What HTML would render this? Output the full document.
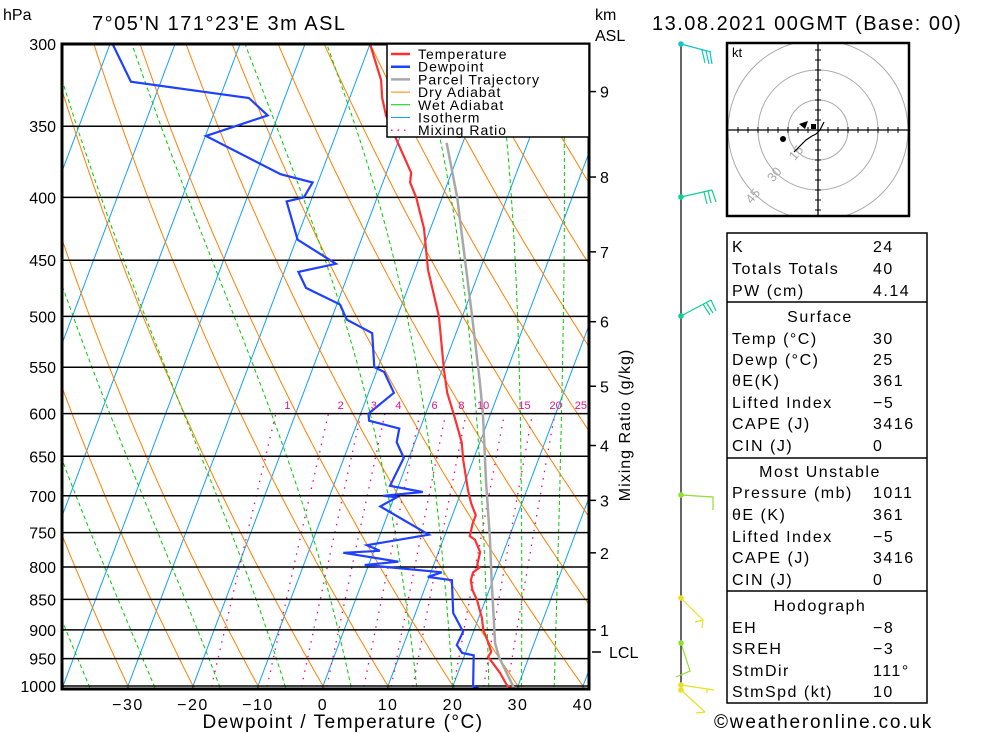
<!DOCTYPE html>
<html><head><meta charset="utf-8">
<style>
html,body{margin:0;padding:0;background:#fff;}
svg{display:block;font-family:"Liberation Sans",sans-serif;}
</style></head>
<body>
<svg id="chart" width="1000" height="733" viewBox="0 0 1000 733" xmlns="http://www.w3.org/2000/svg">
<defs><clipPath id="plotclip"><rect x="62" y="44" width="527" height="645"/></clipPath>
<clipPath id="hodoclip"><rect x="727" y="43" width="182" height="173"/></clipPath></defs>
<rect x="0" y="0" width="1000" height="733" fill="#fff"/>
<text x="3" y="20" font-size="16">hPa</text>
<text x="92" y="30" font-size="20" letter-spacing="1.5">7°05'N  171°23'E  3m  ASL</text>
<text x="595" y="20" font-size="16">km</text>
<text x="595" y="41" font-size="16">ASL</text>
<text x="652" y="30" font-size="20" letter-spacing="1.5">13.08.2021  00GMT  (Base: 00)</text>
<g id="bg" clip-path="url(#plotclip)"></g>
<g id="series" clip-path="url(#plotclip)"></g>
<g id="axes"></g>
<g id="legend"></g>
<g id="winds"></g>
<g id="hodo"></g>
<g id="table"></g>
<text x="714" y="728" font-size="19" letter-spacing="1.8">©weatheronline.co.uk</text>
</svg>
<script>
// ---- data ----
const tempP = [300,321,332,343,361,382,389,400,424,458,500,553,577,600,633,655,692,710,726,737,755,760,778,797,801,808,820,835,851,880,900,923,938,947,958,976,998,1011];
const tempT = [-30,-26.2,-25,-23.4,-20,-16.2,-15.8,-14,-11,-8,-3.6,0.3,2.1,4.3,7.2,8.5,10.9,12.2,13.6,13.6,13.9,14.9,16.4,16.7,17.2,16.5,16.6,17.4,18.7,20.5,21.4,23.0,23.9,23.7,24.8,26.5,28.2,30];
const dewP = [300,322,332,343,356.5,383,389,400,403,433,453,460,474,489,503,516,550,555,577,600,608,617,633,652,687,695,700,702,714,753,768,776,779,792,797,808,815,820,872,903,926,940,944,1000,1011];
const dewT = [-69.6,-64.6,-45.5,-41.6,-49.9,-36.2,-30.8,-31.3,-33.7,-29.8,-22.5,-27.8,-25.7,-19.5,-17.6,-12.9,-10.6,-8.8,-6.1,-8.8,-8.3,-3.2,-2.8,-0.8,-1.3,4.1,-1.8,0.4,-1.6,7.5,-1.4,0.9,-4.6,4.4,-0.6,11.7,9.8,13.7,15.8,18.4,18.2,19.5,21.4,23.1,25.5];
const parcelP = [361,400,500,564,600,683,760,820,923,947,1011];
const parcelT = [-12.5,-7.7,1.5,6.4,8.8,13.3,17.2,19.8,24.0,25.4,30];
const pressureTicks = [300,350,400,450,500,550,600,650,700,750,800,850,900,950,1000];
const tempTicks = [-30,-20,-10,0,10,20,30,40];
const kmLabels = ["9","8","7","6","5","4","3","2","1"];
const kmPressures = [328,385,443,505,570,637,706,779,900];
const mixRatios = [1,2,3,4,6,8,10,15,20,25];
const moistStarts = [-35,-25,-15,-5,5,15,20.5,26,31,36];
const dryStarts = [-40,-30,-20,-10,0,10,20,30,40,50,60,70,80,90,100,110,120,130,140,150,160,170,180,190,200];
const isoTemps = [-110,-100,-90,-80,-70,-60,-50,-40,-30,-20,-10,0,10,20,30,40];
const hodoU = [-12,-6,-3,-1,1,3];
const hodoV = [-11,-5,-3,-2,0,4];
// ---- scales ----
const NS="http://www.w3.org/2000/svg";
const LN=Math.log(1000/300);
function yP(p){return 44+642*Math.log(p/300)/LN;}
function xT(T,p){return 323+6.5*T+0.377*(686-yP(p));}
function mk(parent,tag,attrs){const e=document.createElementNS(NS,tag);for(const k in attrs)e.setAttribute(k,attrs[k]);parent.appendChild(e);return e;}
const bg=document.getElementById('bg'), series=document.getElementById('series'), axes=document.getElementById('axes');
function pts(ps,ts){return ps.map((p,i)=>xT(ts[i],p).toFixed(1)+','+yP(p).toFixed(1)).join(' ');}
const plevels=[];for(let p=1015;p>=295;p-=5)plevels.push(p);
// isotherms
isoTemps.forEach(T=>{
  const l=mk(bg,'line',{x1:xT(T,1015),y1:yP(1015),x2:xT(T,295),y2:yP(295),stroke:'#10a0ff','stroke-width':1});
  
  
});
// dry adiabats
dryStarts.forEach(t0=>{
  const th=t0+273.15;
  const ts=plevels.map(p=>th*Math.pow(p/1000,0.286)-273.15);
  const l=mk(bg,'polyline',{points:pts(plevels,ts),fill:'none',stroke:'#ff8000','stroke-width':1});
  
  
});
// moist adiabats
function es(Tc){return 6.112*Math.exp(17.67*Tc/(Tc+243.5));}
moistStarts.forEach(t0=>{
  let T=t0+273.15;const ps=[],ts=[];
  for(let p=1015;p>=295;p-=1){
    if(p%5===0){ps.push(p);ts.push(T-273.15);}
    const e=es(T-273.15),rs=0.622*e/(p-e);
    const dTdp=(287*T+2.5e6*rs)/(p*(1004+2.5e6*2.5e6*rs*0.622/(287*T*T)));
    T-=dTdp*1;
  }
  const l=mk(bg,'polyline',{points:pts(ps,ts),fill:'none',stroke:'#00cc00','stroke-width':1,'stroke-dasharray':'4,3'});
  
  
});
// mixing ratio
function tdFromW(w,p){const e=w*p/(622+w);const a=Math.log(e/6.112);return 243.5*a/(17.67-a);}
mixRatios.forEach(w=>{
  const ps=[],ts=[];for(let p=1015;p>=600;p-=5){ps.push(p);ts.push(tdFromW(w,p));}
  const l=mk(bg,'polyline',{points:pts(ps,ts),fill:'none',stroke:'#ff0080','stroke-width':1.3,'stroke-dasharray':'1.5,6'});
  
  
  const t=mk(axes,'text',{x:xT(tdFromW(w,600),600)+11+0.6*w,y:409,'font-size':11,fill:'#e0148c','text-anchor':'middle'});
  t.textContent=w;
  
  
});
// pressure lines
pressureTicks.forEach(p=>{
  const l=mk(bg,'line',{x1:62,x2:589,y1:yP(p),y2:yP(p),stroke:'#000','stroke-width':1.5});
  
  
  const t=mk(axes,'text',{x:56,y:yP(p)+6,'font-size':16,'text-anchor':'end'});
  t.textContent=p;
  
  
});
// series
const sP=mk(series,'polyline',{points:pts(parcelP,parcelT),fill:'none',stroke:'#a8a8a8','stroke-width':2.5});


const sD=mk(series,'polyline',{points:pts(dewP,dewT),fill:'none',stroke:'#2040ff','stroke-width':2.2});


const sT=mk(series,'polyline',{points:pts(tempP,tempT),fill:'none',stroke:'#ff3030','stroke-width':2.2});


// frame
const fr=mk(axes,'rect',{x:62,y:44,width:527,height:645,fill:'none',stroke:'#000','stroke-width':3});


tempTicks.forEach(T=>{
  const t=mk(axes,'text',{x:xT(T,1000),y:710,'font-size':16,'text-anchor':'middle','letter-spacing':1.5});
  t.textContent=(T<0?'\u2212'+(-T):T);
  
  
});
const xt=mk(axes,'text',{x:343,y:728,'font-size':19,'text-anchor':'middle','letter-spacing':1.5});
xt.textContent='Dewpoint / Temperature (°C)';


kmLabels.forEach((k,i)=>{
  const y=yP(kmPressures[i]);
  const l=mk(axes,'line',{x1:589,x2:596,y1:y,y2:y,stroke:'#000','stroke-width':1.5});
  
  
  const t=mk(axes,'text',{x:600,y:y+6,'font-size':16});
  t.textContent=k;
  
  
});
const lcl=mk(axes,'line',{x1:592,x2:601,y1:652,y2:652,stroke:'#000','stroke-width':1.5});


const lclt=mk(axes,'text',{x:609,y:658,'font-size':16});
lclt.textContent='LCL';


const mr=mk(axes,'text',{x:0,y:0,'font-size':16,'text-anchor':'middle','letter-spacing':1,transform:'translate(630,425) rotate(-90)'});
mr.textContent='Mixing Ratio (g/kg)';


// legend
const lg=document.getElementById('legend');
mk(lg,'rect',{x:387,y:44,width:202,height:93,fill:'#fff',stroke:'#000','stroke-width':1.5});
const legNames=['Temperature','Dewpoint','Parcel Trajectory','Dry Adiabat','Wet Adiabat','Isotherm','Mixing Ratio'];
const legCol=['#ff3030','#2040ff','#a8a8a8','#ff8000','#00cc00','#10a0ff','#ff0080'];
const legW=[2.5,2.5,2.5,1,1,1,1.3];
legNames.forEach((n,i)=>{
  const y=54+i*12.7;
  const g=mk(lg,'g',{});
  
  
  const a={x1:391,x2:410,y1:y,y2:y,stroke:legCol[i],'stroke-width':legW[i]};
  if(i===6)a['stroke-dasharray']='1.5,5';
  mk(g,'line',a);
  const t=mk(g,'text',{x:418,y:y+5,'font-size':14,'letter-spacing':1});
  t.textContent=n;
});
// winds
const wd=document.getElementById('winds');
mk(wd,'line',{x1:681,x2:681,y1:44,y2:692,stroke:'#000','stroke-width':1.2});
const barbs=[
 [44,'#10c8c8','M681,44 L711,52 M702,50 L705,63 M706,51 L709,64 M710,52 L712,64'],
 [197,'#10d090','M681,197 L712,190 M704,192 L707,204 M708,191 L711,203 M712,190 L716,202'],
 [316,'#10d090','M681,316 L711,300 M703,304 L710,315 M706,302 L713,313 M711,300 L716,311'],
 [495,'#90e030','M681,495 L713,497 L713,510'],
 [598,'#e8e020','M681,598 L703,620 M695,622 L703,620 L702,628'],
 [643,'#90e030','M681,643 L690,671 L676,677'],
 [685,'#e8e020','M681,685 L714,690 M707,689 L707,693'],
 [690,'#e8e020','M681,690 L705,712 M696,713 L705,712']
];
barbs.forEach(b=>{
  const g=mk(wd,'g',{});
  
  
  mk(g,'path',{d:b[2],fill:'none',stroke:b[1],'stroke-width':1.2});
  mk(g,'circle',{cx:681,cy:b[0],r:2.8,fill:b[1]});
});
// hodograph
const hd=document.getElementById('hodo');
const hc=mk(hd,'g',{'clip-path':'url(#hodoclip)'});
[30,60,90].forEach(r=>mk(hc,'circle',{cx:818,cy:130,r:r,fill:'none',stroke:'#aaa','stroke-width':1}));
mk(hd,'line',{x1:727,x2:909,y1:130,y2:130,stroke:'#000','stroke-width':1.3});
mk(hd,'line',{x1:818,x2:818,y1:43,y2:216,stroke:'#000','stroke-width':1.3});
for(let d=-80;d<=80;d+=10){if(d===0)continue;
  mk(hd,'line',{x1:818+d,x2:818+d,y1:127,y2:133,stroke:'#000','stroke-width':1});
  mk(hd,'line',{x1:815,x2:821,y1:130+d,y2:130+d,stroke:'#000','stroke-width':1});}
[['15',30],['30',60],['45',90]].forEach(a=>{
  const r=a[1]*0.72;const t=mk(hd,'text',{x:0,y:0,'font-size':13,fill:'#aaa','text-anchor':'middle',transform:`translate(${818-r+3},${130+r+4}) rotate(-50)`});t.textContent=a[0];});
mk(hd,'rect',{x:727,y:43,width:182,height:173,fill:'none',stroke:'#000','stroke-width':2.5});
const kt=mk(hd,'text',{x:732,y:57,'font-size':13});kt.textContent='kt';
const hpts=hodoU.map((u,i)=>(818+u*2).toFixed(1)+','+(130-hodoV[i]*2).toFixed(1)).join(' ');
const hl=mk(hd,'polyline',{points:hpts,fill:'none',stroke:'#000','stroke-width':1.2});


mk(hd,'circle',{cx:783,cy:139,r:3,fill:'#000'});
mk(hd,'path',{d:'M799,124 L808,121 L805,129 Z',fill:'#000'});
mk(hd,'rect',{x:811,y:124,width:5,height:5,fill:'#000'});
// table
const tb=document.getElementById('table');
mk(tb,'rect',{x:727,y:233,width:200,height:470,fill:'none',stroke:'#000','stroke-width':1.5});
[302,458,591].forEach(y=>mk(tb,'line',{x1:727,x2:927,y1:y,y2:y,stroke:'#000','stroke-width':1.5}));
const rows=[
 ['K','24',252],['Totals Totals','40',274],['PW (cm)','4.14',296],
 ['#Surface','',322],['Temp (°C)','30',344],['Dewp (°C)','25',365],['θE(K)','361',386],['Lifted Index','\u22125',408],['CAPE (J)','3416',429],['CIN (J)','0',451],
 ['#Most Unstable','',477],['Pressure (mb)','1011',498],['θE (K)','361',520],['Lifted Index','\u22125',542],['CAPE (J)','3416',563],['CIN (J)','0',585],
 ['#Hodograph','',611],['EH','\u22128',633],['SREH','\u22123',654],['StmDir','111°',676],['StmSpd (kt)','10',697]];
rows.forEach(r=>{
  if(r[0][0]==='#'){const t=mk(tb,'text',{x:820,y:r[2],'font-size':16,'text-anchor':'middle','letter-spacing':1.5});t.textContent=r[0].slice(1);
    
    return;}
  const t=mk(tb,'text',{x:732,y:r[2],'font-size':16,'letter-spacing':1.5});t.textContent=r[0];
  
  
  const v=mk(tb,'text',{x:873,y:r[2],'font-size':16,'letter-spacing':1.5});v.textContent=r[1];
  
  
});
</script>
</body></html>
